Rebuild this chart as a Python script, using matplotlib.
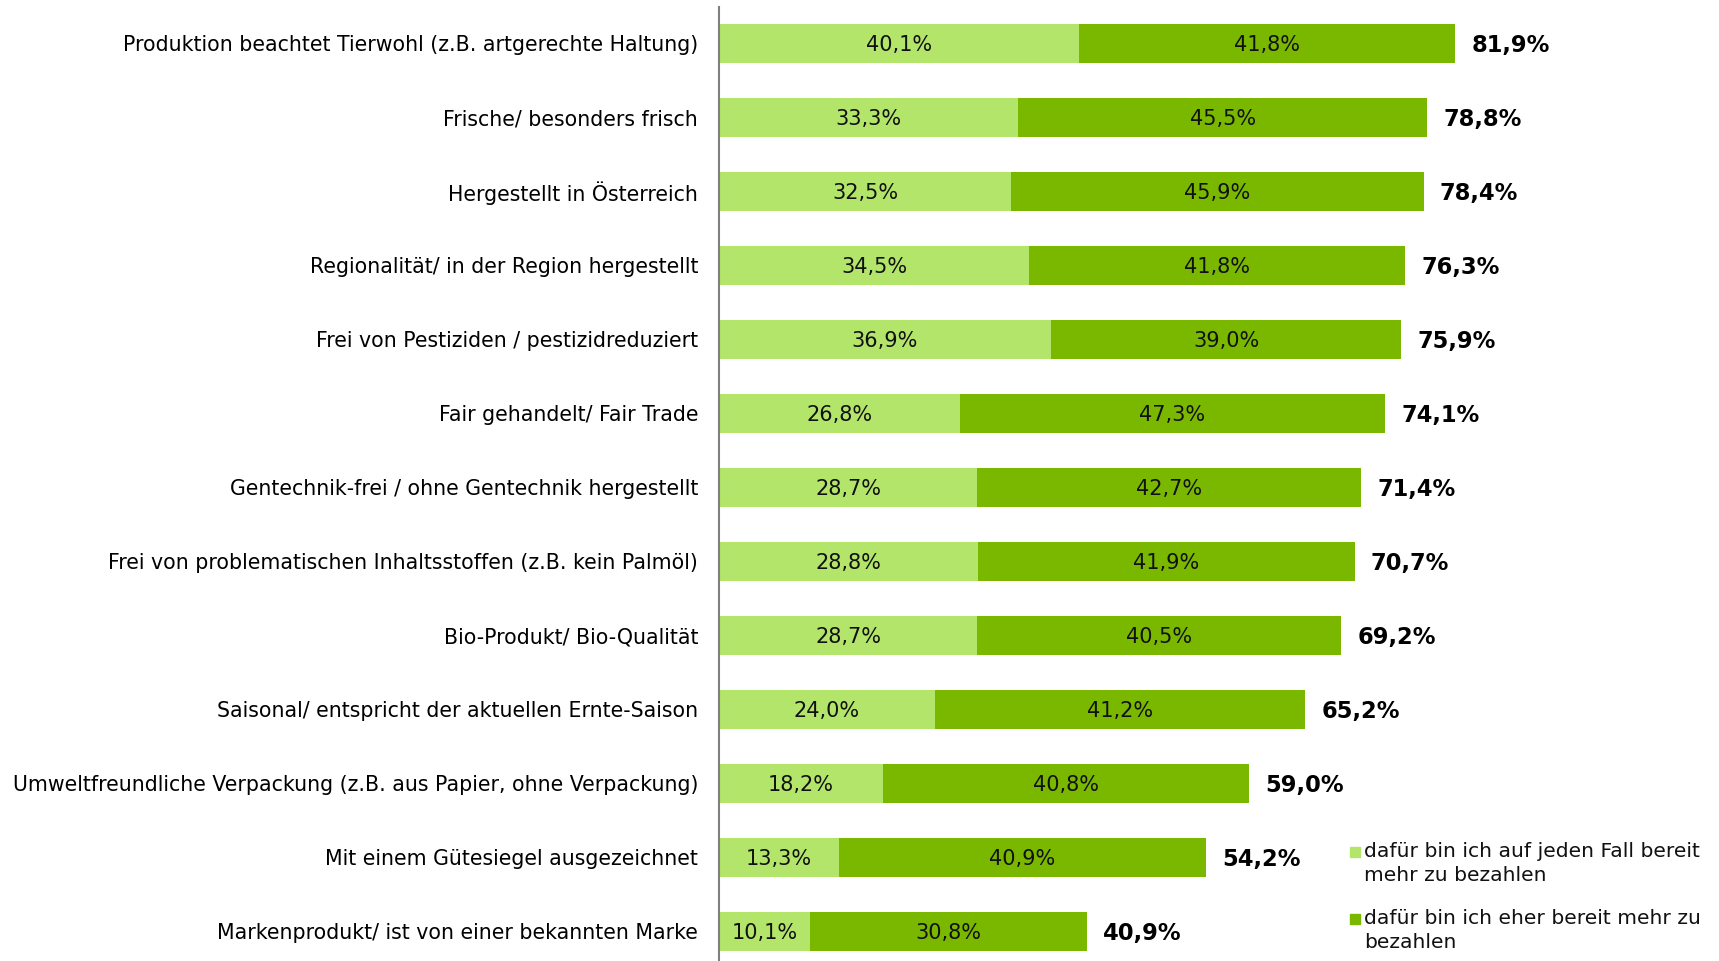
import matplotlib.pyplot as plt
from matplotlib.patches import Rectangle

plt.rcParams['font.family'] = ['DejaVu Sans']

categories = [
    "Produktion beachtet Tierwohl (z.B. artgerechte Haltung)",
    "Frische/ besonders frisch",
    "Hergestellt in Österreich",
    "Regionalität/ in der Region hergestellt",
    "Frei von Pestiziden / pestizidreduziert",
    "Fair gehandelt/ Fair Trade",
    "Gentechnik-frei / ohne Gentechnik hergestellt",
    "Frei von problematischen Inhaltsstoffen (z.B. kein Palmöl)",
    "Bio-Produkt/ Bio-Qualität",
    "Saisonal/ entspricht der aktuellen Ernte-Saison",
    "Umweltfreundliche Verpackung (z.B. aus Papier, ohne Verpackung)",
    "Mit einem Gütesiegel ausgezeichnet",
    "Markenprodukt/ ist von einer bekannten Marke",
]
auf_jeden_fall = [40.1, 33.3, 32.5, 34.5, 36.9, 26.8, 28.7, 28.8, 28.7, 24.0, 18.2, 13.3, 10.1]
eher_bereit = [41.8, 45.5, 45.9, 41.8, 39.0, 47.3, 42.7, 41.9, 40.5, 41.2, 40.8, 40.9, 30.8]
totals = [81.9, 78.8, 78.4, 76.3, 75.9, 74.1, 71.4, 70.7, 69.2, 65.2, 59.0, 54.2, 40.9]
legend_labels = ["dafür bin ich auf jeden Fall bereit\nmehr zu bezahlen",
                 "dafür bin ich eher bereit mehr zu\nbezahlen"]

light = '#b3e56a'
dark = '#7ab800'

def fmt(v):
    return '{:.1f}%'.format(v).replace('.', ',')

fig = plt.figure(figsize=(17.19, 9.61), dpi=100)
ax = fig.add_axes([719 / 1719, 0, 1 - 719 / 1719, 1 - 7 / 961])

y = list(range(len(categories)))
ax.barh(y, auf_jeden_fall, height=0.53, color=light)
ax.barh(y, eher_bereit, left=auf_jeden_fall, height=0.53, color=dark)

for i in y:
    a, b = auf_jeden_fall[i], eher_bereit[i]
    ax.text(a / 2, i, fmt(a), ha='center', va='center_baseline', fontsize=15, color='#111111')
    ax.text(a + b / 2, i, fmt(b), ha='center', va='center_baseline', fontsize=15, color='#111111')
    ax.text(totals[i] + 1.8, i, fmt(totals[i]), ha='left', va='center_baseline',
            fontsize=16.3, fontweight='bold', color='black')

ax.set_xlim(0, (1719 - 719) / 8.99)
ax.set_ylim(12.4, -0.493)
ax.set_yticks(y)
ax.set_yticklabels(categories, fontsize=14.8)
ax.tick_params(axis='y', length=0, pad=15)
ax.set_xticks([])
for s in ['top', 'right', 'bottom']:
    ax.spines[s].set_visible(False)
ax.spines['left'].set_color('#808080')
ax.spines['left'].set_linewidth(1.5)

# legend drawn by hand at the lower right
for k, (lab, col) in enumerate(zip(legend_labels, [light, dark])):
    yc = 1 - (852 + k * 67) / 961
    fig.patches.append(Rectangle((1350 / 1719, yc - 5 / 961), 10 / 1719, 10 / 961,
                                 transform=fig.transFigure, color=col))
    fig.text(1364 / 1719, yc + 10 / 961, lab, ha='left', va='top', fontsize=14.6,
             linespacing=1.32, color='#111111')

fig.savefig('out.png')
